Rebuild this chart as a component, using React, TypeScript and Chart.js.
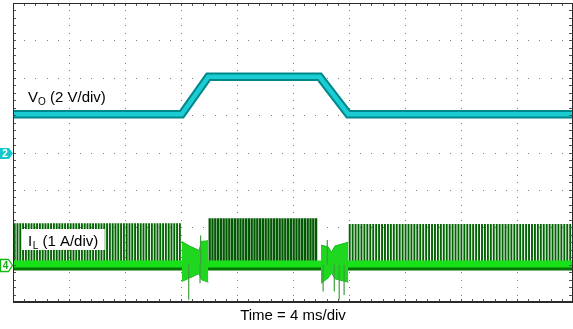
import React, { useEffect, useRef } from 'react';
import { Chart, registerables } from 'chart.js';

Chart.register(...registerables);

// Time axis: 4 ms/div, 10 divisions
const timeMin = 0;
const timeMax = 40;
const timeDivMs = 4;

// Channel 2: V_O (2 V/div), ground marker 4 divs from bottom
const voMin = -8;
const voMax = 8;
const voTimes = [0, 12.05, 13.95, 21.9, 23.95, 40];
const voValues = [2.05, 2.05, 4.05, 4.05, 2.05, 2.05];

// Channel 4: I_L (1 A/div), zero marker 1 div from bottom
const ilMin = -1;
const ilMax = 7;
const ilBaselineTimes = [0, 40];
const ilBaselineValues = [0, 0];

// Switching pulse bursts (start, end, peak current, pulse period in ms)
const ilSectionStart = [0.12, 14.05, 24.05];
const ilSectionEnd = [11.95, 21.8, 39.95];
const ilSectionPeak = [1.11, 1.24, 1.09];
const ilSectionPeriod = [0.2, 0.2, 0.21];
const ilSectionValley = [-0.14, -0.14, -0.14];

// Transition envelopes (ringing during V_O ramps)
const trans1Times = [12.05, 12.6, 13.3, 13.45, 13.95];
const trans1Upper = [0.62, 0.5, 0.38, 0.62, 0.64];
const trans1Lower = [-0.45, -0.36, -0.24, -0.4, -0.47];
const trans2Times = [22.0, 22.5, 22.75, 23.0, 23.95];
const trans2Upper = [0.52, 0.48, 0.33, 0.5, 0.6];
const trans2Lower = [-0.5, -0.36, -0.22, -0.38, -0.47];

// Isolated spikes during transitions
const spikeTimes = [12.55, 13.36, 13.4, 22.15, 22.45, 22.95, 23.3, 23.65];
const spikeValues = [-0.94, -0.5, 0.78, -0.72, 0.66, -0.72, -0.94, -0.81];

const voLabelMain = 'V';
const voLabelSub = 'O';
const voLabelRest = ' (2 V/div)';
const ilLabelMain = 'I';
const ilLabelSub = 'L';
const ilLabelRest = ' (1 A/div)';
const timeLabel = 'Time = 4 ms/div';

const FONT = '"Liberation Sans", Arial, Helvetica, sans-serif';

function zipXY(xs: number[], ys: number[]) {
  return xs.map((x, i) => ({ x, y: ys[i] }));
}

function pulseData(i: number) {
  const pts: { x: number; y: number | null }[] = [];
  const n = Math.floor((ilSectionEnd[i] - ilSectionStart[i]) / ilSectionPeriod[i] + 1e-6);
  for (let k = 0; k <= n; k++) {
    const t = ilSectionStart[i] + k * ilSectionPeriod[i];
    pts.push({ x: t, y: ilSectionValley[i] }, { x: t, y: ilSectionPeak[i] }, { x: t, y: null });
  }
  return pts;
}

function spikeData() {
  const pts: { x: number; y: number | null }[] = [];
  spikeTimes.forEach((t, i) => {
    pts.push({ x: t, y: 0 }, { x: t, y: spikeValues[i] }, { x: t, y: null });
  });
  return pts;
}

const scopePlugin = {
  id: 'scopeDecor',
  beforeDatasetsDraw(chart: any) {
    const { ctx, scales } = chart;
    const xs = scales.x;
    const yI = scales.yI;
    ctx.save();
    ctx.fillStyle = '#808080';
    for (let t = timeMin + timeDivMs; t < timeMax - 1e-6; t += timeDivMs) {
      const px = Math.round(xs.getPixelForValue(t));
      for (let v = ilMin; v <= ilMax + 1e-6; v += 0.2) {
        const py = Math.round(yI.getPixelForValue(v));
        ctx.fillRect(px, py, 1, 1);
      }
    }
    for (let v = ilMin + 1; v < ilMax - 1e-6; v += 1) {
      const py = Math.round(yI.getPixelForValue(v));
      for (let t = timeMin; t <= timeMax + 1e-6; t += timeDivMs / 5) {
        const px = Math.round(xs.getPixelForValue(t));
        ctx.fillRect(px, py, 1, 1);
      }
    }
    ctx.restore();
  },
  afterDatasetsDraw(chart: any) {
    const { ctx, chartArea: a, scales } = chart;
    const xs = scales.x;
    const yI = scales.yI;
    const yV = scales.yV;
    ctx.save();
    ctx.fillStyle = '#555';
    for (let t = timeMin; t <= timeMax + 1e-6; t += timeDivMs / 5) {
      const px = Math.round(xs.getPixelForValue(t));
      ctx.fillRect(px, Math.round(a.top), 1, 3);
      ctx.fillRect(px, Math.round(a.bottom) - 3, 1, 3);
    }
    for (let v = ilMin; v <= ilMax + 1e-6; v += 0.2) {
      const py = Math.round(yI.getPixelForValue(v));
      ctx.fillRect(Math.round(a.left), py, 3, 1);
      ctx.fillRect(Math.round(a.right) - 4, py, 3, 1);
    }
    ctx.strokeStyle = '#2a2a2a';
    ctx.lineWidth = 1;
    ctx.strokeRect(Math.round(a.left) + 0.5, Math.round(a.top) + 0.5, Math.round(a.right - a.left) - 1, Math.round(a.bottom - a.top) - 1);
    ctx.fillStyle = '#2a2a2a';
    ctx.fillRect(Math.round(a.left), Math.round(a.bottom) - 1, Math.round(a.right - a.left), 2);

    const bigFont = `15px ${FONT}`;
    const subFont = `10px ${FONT}`;
    ctx.fillStyle = '#000';
    ctx.textBaseline = 'alphabetic';
    ctx.textAlign = 'left';
    let x0 = 28;
    const vy = 101.5;
    ctx.font = bigFont;
    ctx.fillText(voLabelMain, x0, vy);
    x0 += ctx.measureText(voLabelMain).width;
    ctx.font = subFont;
    ctx.fillText(voLabelSub, x0, vy + 3);
    x0 += ctx.measureText(voLabelSub).width;
    ctx.font = bigFont;
    ctx.fillText(voLabelRest, x0, vy);

    ctx.font = bigFont;
    let w = ctx.measureText(ilLabelMain + ilLabelRest).width;
    ctx.font = subFont;
    w += ctx.measureText(ilLabelSub).width;
    ctx.fillStyle = '#fff';
    ctx.fillRect(22, 229, w + 13, 21);
    ctx.fillStyle = '#000';
    let x1 = 28;
    const iy = 245.5;
    ctx.font = bigFont;
    ctx.fillText(ilLabelMain, x1, iy);
    x1 += ctx.measureText(ilLabelMain).width + 0.5;
    ctx.font = subFont;
    ctx.fillText(ilLabelSub, x1, iy + 3);
    x1 += ctx.measureText(ilLabelSub).width;
    ctx.font = bigFont;
    ctx.fillText(ilLabelRest, x1, iy);

    ctx.font = `15px ${FONT}`;
    ctx.textAlign = 'center';
    ctx.fillText(timeLabel, (a.left + a.right) / 2, 320);

    const y2 = Math.round(yV.getPixelForValue(0)) + 0.5;
    ctx.beginPath();
    ctx.moveTo(0, y2 - 5.5);
    ctx.lineTo(9, y2 - 5.5);
    ctx.lineTo(13, y2);
    ctx.lineTo(9, y2 + 5.5);
    ctx.lineTo(0, y2 + 5.5);
    ctx.closePath();
    ctx.fillStyle = 'rgb(20,200,205)';
    ctx.fill();
    ctx.fillStyle = '#fff';
    ctx.font = `bold 10px ${FONT}`;
    ctx.textAlign = 'center';
    ctx.textBaseline = 'middle';
    ctx.fillText('2', 5, y2 + 0.5);

    const y4 = Math.round(yI.getPixelForValue(0)) + 0.5;
    ctx.beginPath();
    ctx.moveTo(0.5, y4 - 6);
    ctx.lineTo(8.5, y4 - 6);
    ctx.lineTo(12.5, y4);
    ctx.lineTo(8.5, y4 + 6);
    ctx.lineTo(0.5, y4 + 6);
    ctx.closePath();
    ctx.fillStyle = '#fff';
    ctx.fill();
    ctx.strokeStyle = 'rgb(20,185,20)';
    ctx.lineWidth = 1.3;
    ctx.stroke();
    ctx.fillStyle = 'rgb(20,170,20)';
    ctx.fillText('4', 5.5, y4 + 0.5);
    ctx.restore();
  },
};

export default function App() {
  const ref = useRef<HTMLCanvasElement | null>(null);
  useEffect(() => {
    if (!ref.current) return;
    const datasets: any[] = [];
    ilSectionStart.forEach((_, i) => {
      datasets.push({
        data: pulseData(i),
        yAxisID: 'yI',
        borderColor: i === 1 ? 'rgb(0,88,0)' : 'rgb(0,100,0)',
        borderWidth: i === 1 ? 2.3 : 1.9,
        pointRadius: 0,
        spanGaps: false,
        order: 10,
      });
    });
    datasets.push({
      data: zipXY(ilBaselineTimes, ilBaselineValues.map((v) => v - 0.04)),
      yAxisID: 'yI',
      borderColor: 'rgb(0,115,0)',
      borderWidth: 9,
      pointRadius: 0,
      order: 8,
    });
    datasets.push({
      data: zipXY(ilBaselineTimes, ilBaselineValues.map((v) => v + 0.02)),
      yAxisID: 'yI',
      borderColor: 'rgb(25,225,25)',
      borderWidth: 7,
      pointRadius: 0,
      order: 7,
    });
    const addTrans = (ts: number[], up: number[], lo: number[]) => {
      datasets.push({
        data: zipXY(ts, up),
        yAxisID: 'yI',
        borderColor: 'rgb(20,185,20)',
        borderWidth: 1,
        backgroundColor: 'rgb(30,215,30)',
        fill: '+1',
        pointRadius: 0,
        order: 6,
      });
      datasets.push({
        data: zipXY(ts, lo),
        yAxisID: 'yI',
        borderColor: 'rgb(20,165,20)',
        borderWidth: 1,
        pointRadius: 0,
        order: 6,
      });
    };
    addTrans(trans1Times, trans1Upper, trans1Lower);
    addTrans(trans2Times, trans2Upper, trans2Lower);
    datasets.push({
      data: spikeData(),
      yAxisID: 'yI',
      borderColor: 'rgb(60,160,60)',
      borderWidth: 1.2,
      pointRadius: 0,
      spanGaps: false,
      order: 5,
    });
    datasets.push({
      data: zipXY(voTimes, voValues),
      yAxisID: 'yV',
      borderColor: 'rgb(0,135,140)',
      borderWidth: 8.5,
      pointRadius: 0,
      order: 2,
    });
    datasets.push({
      data: zipXY(voTimes, voValues),
      yAxisID: 'yV',
      borderColor: 'rgb(25,205,210)',
      borderWidth: 4.5,
      pointRadius: 0,
      order: 1,
    });

    const chart = new Chart(ref.current, {
      type: 'line',
      data: { datasets },
      options: {
        animation: false,
        responsive: false,
        devicePixelRatio: 1,
        events: [],
        layout: { padding: { left: 13, top: 3, right: 0, bottom: 27 } },
        plugins: { legend: { display: false }, tooltip: { enabled: false } },
        elements: { line: { tension: 0, borderJoinStyle: 'miter' } },
        scales: {
          x: { type: 'linear', min: timeMin, max: timeMax, display: false },
          yV: { type: 'linear', min: voMin, max: voMax, display: false },
          yI: { type: 'linear', min: ilMin, max: ilMax, display: false },
        },
      },
      plugins: [scopePlugin],
    } as any);
    return () => chart.destroy();
  }, []);
  return (
    <div style={{ position: 'fixed', left: 0, top: 0, width: 573, height: 329, background: '#fff' }}>
      <canvas ref={ref} width={573} height={329} style={{ display: 'block' }} />
    </div>
  );
}
